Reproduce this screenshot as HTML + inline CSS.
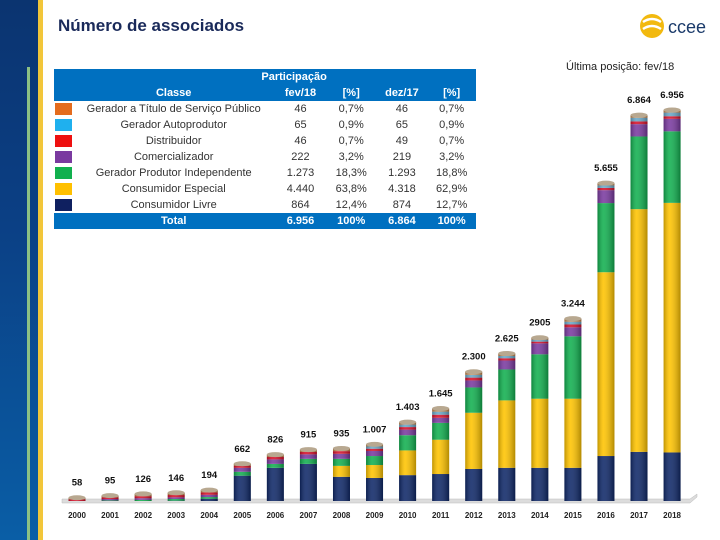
<!DOCTYPE html>
<html><head><meta charset="utf-8">
<style>
body{margin:0;width:720px;height:540px;overflow:hidden;background:#fff;font-family:"Liberation Sans",sans-serif;position:relative}
.band{position:absolute;left:0;top:0;width:38px;height:540px;background:linear-gradient(#0b3470,#0b3f84 40%,#0a5ea6)}
.ystripe{position:absolute;left:38px;top:0;width:5px;height:540px;background:#f2c63a}
.gline{position:absolute;left:27px;top:67px;width:3px;height:473px;background:#8cc084}
h1{position:absolute;left:58px;top:16px;margin:0;font-size:17px;font-weight:bold;color:#1a2a5a}
table{position:absolute;left:54px;top:69px;width:422px;border-collapse:collapse;font-size:11px;color:#333}
td{height:16px;padding:0;text-align:center}
tr.h td{background:#0070c0;color:#fff;font-weight:bold}
.sw{width:18px}
.sw div{width:17px;height:12px;margin:0 auto 0 1px}
.last{position:absolute;left:566px;top:61px;font-size:11px;color:#222}
.logo{position:absolute;left:640px;top:12px}
</style></head><body>
<div class="band"></div>
<div class="gline"></div>
<div class="ystripe"></div>
<h1>Número de associados</h1>
<svg class="logo" width="70" height="30">
<circle cx="12" cy="14" r="12" fill="#f2b90f"/>
<path d="M3 10 Q12 4 21 10 M3 17 Q12 11 21 17" stroke="#fff" stroke-width="2.5" fill="none"/>
<text x="28" y="21" font-size="18" fill="#1a3a6a" font-family="Liberation Sans">ccee</text>
</svg>
<div class="last">Última posição: fev/18</div>
<table>
<tr class="h"><td></td><td colspan="5" style="padding-left:40px">Participação</td></tr>
<tr class="h"><td></td><td style="width:200px">Classe</td><td style="width:50px">fev/18</td><td style="width:50px">[%]</td><td style="width:50px">dez/17</td><td style="width:48px">[%]</td></tr>
<tr><td class="sw"><div style="background:#e46c1e"></div></td><td>Gerador a Título de Serviço Público</td><td>46</td><td>0,7%</td><td>46</td><td>0,7%</td></tr>
<tr><td class="sw"><div style="background:#1fb0ee"></div></td><td>Gerador Autoprodutor</td><td>65</td><td>0,9%</td><td>65</td><td>0,9%</td></tr>
<tr><td class="sw"><div style="background:#ee1010"></div></td><td>Distribuidor</td><td>46</td><td>0,7%</td><td>49</td><td>0,7%</td></tr>
<tr><td class="sw"><div style="background:#7a3aa0"></div></td><td>Comercializador</td><td>222</td><td>3,2%</td><td>219</td><td>3,2%</td></tr>
<tr><td class="sw"><div style="background:#11b04e"></div></td><td>Gerador Produtor Independente</td><td>1.273</td><td>18,3%</td><td>1.293</td><td>18,8%</td></tr>
<tr><td class="sw"><div style="background:#ffc000"></div></td><td>Consumidor Especial</td><td>4.440</td><td>63,8%</td><td>4.318</td><td>62,9%</td></tr>
<tr><td class="sw"><div style="background:#0f2060"></div></td><td>Consumidor Livre</td><td>864</td><td>12,4%</td><td>874</td><td>12,7%</td></tr>
<tr class="h"><td></td><td>Total</td><td>6.956</td><td>100%</td><td>6.864</td><td>100%</td></tr>
</table>
<svg id="chart" width="720" height="540" style="position:absolute;left:0;top:0">
<defs><linearGradient id="shade" x1="0" x2="1"><stop offset="0" stop-color="#000" stop-opacity="0.25"/><stop offset="0.35" stop-color="#fff" stop-opacity="0.12"/><stop offset="1" stop-color="#000" stop-opacity="0.3"/></linearGradient></defs>
</svg>
<script>
const years=["2000","2001","2002","2003","2004","2005","2006","2007","2008","2009","2010","2011","2012","2013","2014","2015","2016","2017","2018"];
const totalLabels=["58","95","126","146","194","662","826","915","935","1.007","1.403","1.645","2.300","2.625","2905","3.244","5.655","6.864","6.956"];
const livre=[0,0,0,5,40,450,590,660,430,410,460,480,570,590,590,590,800,874,864];
const especial=[0,0,0,0,0,0,0,0,195,230,440,610,1000,1200,1230,1230,3270,4318,4440];
const gpi=[0,10,20,30,30,70,70,90,125,160,270,300,450,550,790,1110,1230,1293,1273];
const comerc=[0,25,30,30,40,70,80,80,90,90,100,90,125,160,195,160,230,219,222];
const distrib=[30,30,36,41,44,36,43,42,47,40,45,55,50,40,30,50,40,49,46];
const autoprod=[0,0,0,0,0,0,0,0,0,40,44,55,50,40,35,50,45,65,65];
const servico=[28,30,40,40,40,36,43,43,48,37,44,55,55,45,35,54,40,46,46];
const series=[livre,especial,gpi,comerc,distrib,autoprod,servico];
const colors=["#0f2868","#ffc400","#12b050","#7a3aa0","#d8102a","#6aa8c8","#c88a50"];
const svg=document.getElementById('chart');
const NS='http://www.w3.org/2000/svg';
const base=501,scale=391/6956,x0=77,step=33.06,bw=17;
const yv=v=>base-v*scale;
function mk(t,a){const e=document.createElementNS(NS,t);for(const k in a)e.setAttribute(k,a[k]);svg.appendChild(e);return e;}
const floor=mk('path',{d:'M62 499 L690 499 L697 494 L697 497 L690 503 L62 503 Z',fill:'#dcdcdc',stroke:'#bbb','stroke-width':0.5});

years.forEach((y,i)=>{
  const cx=x0+i*step,x=cx-bw/2;let cum=0;
  series.forEach((s,j)=>{
    const v=s[i];if(!v)return;
    const r=mk('rect',{x:x,y:yv(cum+v),width:bw,height:v*scale,fill:colors[j]});
    
    
    cum+=v;
  });
  const sh=mk('rect',{x:x,y:yv(cum),width:bw,height:cum*scale,fill:'url(#shade)'});
  
  
  const cap=mk('ellipse',{cx:cx,cy:yv(cum),rx:bw/2,ry:2.5,fill:'#b8a890'});
  
  
  const lb=mk('text',{x:cx,y:yv(cum)-12,'text-anchor':'middle','font-size':9.5,'font-weight':'bold',fill:'#111'});
  lb.textContent=totalLabels[i];
  
  
  const yl=mk('text',{x:cx,y:518,'text-anchor':'middle','font-size':8,'font-weight':'bold',fill:'#222'});
  yl.textContent=y;
  
  
});
</script>
</body></html>
